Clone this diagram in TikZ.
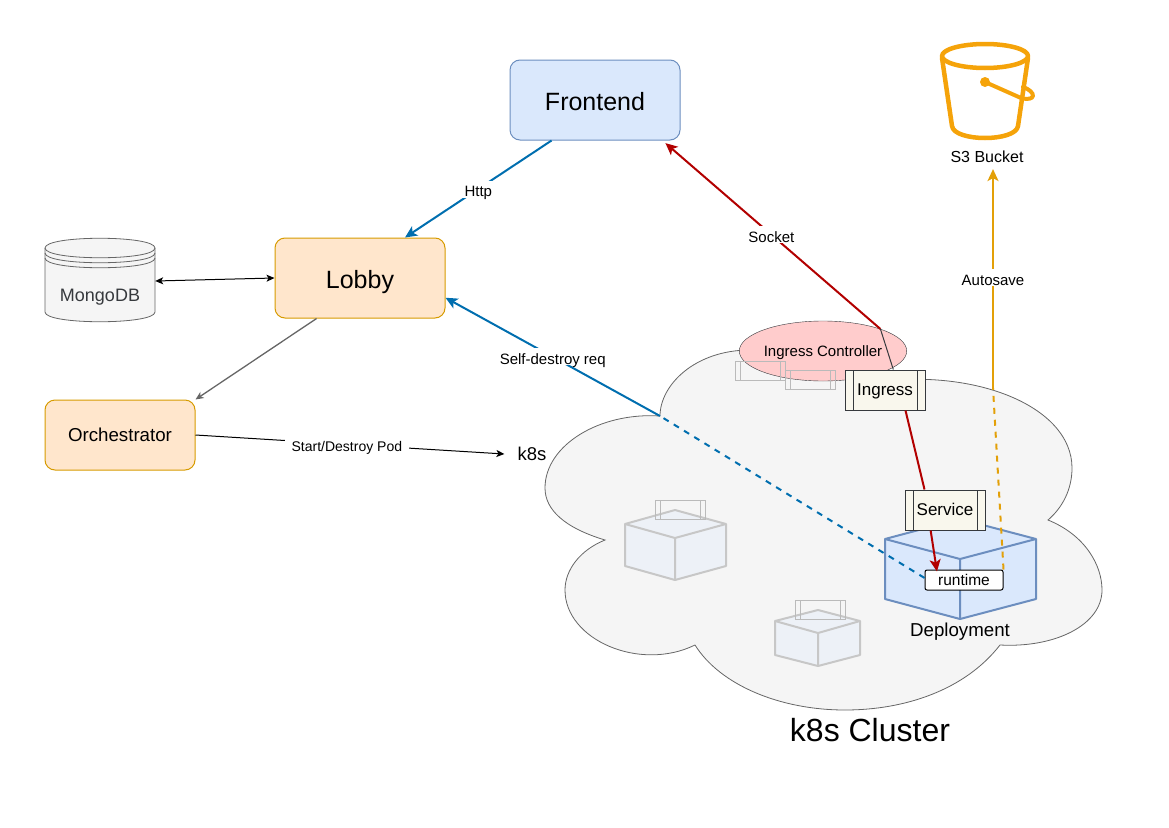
\documentclass[tikz,border=0pt]{standalone}
\usepackage{fontspec}
\setmainfont{Liberation Sans}
\usetikzlibrary{shapes.geometric, arrows.meta}
\definecolor{blueFill}{HTML}{DAE8FC}
\definecolor{blueLine}{HTML}{6C8EBF}
\definecolor{orangeFill}{HTML}{FFE6CC}
\definecolor{orangeLine}{HTML}{D79B00}
\definecolor{greyFill}{HTML}{F5F5F5}
\definecolor{greyLine}{HTML}{666666}
\definecolor{darkLine}{HTML}{36393D}
\definecolor{pinkFill}{HTML}{FFCCCC}
\definecolor{creamFill}{HTML}{F9F7ED}
\definecolor{httpBlue}{HTML}{006EAF}
\definecolor{socketRed}{HTML}{B20000}
\definecolor{bucketOrange}{HTML}{F5A30A}
\definecolor{saveOrange}{HTML}{E3A008}
\newcommand{\fsize}[1]{\fontsize{#1}{#1}\selectfont}

\begin{document}
\begin{tikzpicture}[
    x=1pt, y=-1pt,
    bluebox/.style={draw=blueLine, fill=blueFill, line width=1pt, rectangle, rounded corners=10pt, minimum width=170pt, minimum height=80pt, text height=21pt, text depth=0pt, font=\fsize{25}},
    orangebox/.style={draw=orangeLine, fill=orangeFill, line width=1pt, rectangle, rounded corners=10pt, minimum width=170pt, minimum height=80pt, text height=21pt, text depth=0pt, font=\fsize{25}},
    process/.style={draw=darkLine, fill=creamFill, line width=1pt, rectangle, minimum width=80pt, minimum height=40pt, inner sep=0pt, text height=11pt, text depth=0pt, font=\fsize{17},
        path picture={
            \draw[darkLine] ([xshift=8pt]path picture bounding box.south west) -- ([xshift=8pt]path picture bounding box.north west);
            \draw[darkLine] ([xshift=-8pt]path picture bounding box.south east) -- ([xshift=-8pt]path picture bounding box.north east);
        }},
    ghost/.style={draw=black!27, line width=1pt, rectangle, minimum width=50pt, minimum height=19pt, inner sep=0pt,
        path picture={
            \draw[black!27] ([xshift=5pt]path picture bounding box.south west) -- ([xshift=5pt]path picture bounding box.north west);
            \draw[black!27] ([xshift=-5pt]path picture bounding box.south east) -- ([xshift=-5pt]path picture bounding box.north east);
        }},
    plain/.style={inner sep=0pt, font=\fsize{#1}},
    plain/.default=15,
    edge label/.style={midway, fill=white, text=black, inner xsep=3pt, inner ysep=1pt, text height=15pt, text depth=0pt, font=\fsize{15}},
    cube/.style={draw=blueLine, fill=blueFill, line width=2pt, line join=round},
    ghostcube/.style={draw=black!22, fill=blueFill!30!greyFill, line width=2pt, line join=round},
    thinarrow/.style={black, line width=1pt, -{Stealth[length=8pt, width=7pt, inset=2pt]}},
    widearrow/.style={line width=2pt, -{Stealth[length=12pt, width=11pt, inset=3pt]}}]

\useasboundingbox (0,0) rectangle (1169,827);

% Cluster cloud
\draw[draw=greyLine, fill=greyFill, line width=0.8pt]
    (605,540) .. controls (565,528) and (545,510) .. (545,488)
    .. controls (545,445) and (600,412) .. (660,416)
    .. controls (660,385) and (695,350) .. (750,350)
    .. controls (790,345) and (845,355) .. (862,384)
    .. controls (970,365) and (1072,405) .. (1072,468)
    .. controls (1072,490) and (1062,508) .. (1048,520)
    .. controls (1085,535) and (1102,565) .. (1102,590)
    .. controls (1102,625) and (1055,648) .. (1000,645)
    .. controls (965,690) and (905,710) .. (845,710)
    .. controls (780,710) and (720,685) .. (695,645)
    .. controls (640,672) and (565,640) .. (565,590)
    .. controls (565,570) and (580,550) .. (605,540) -- cycle;

% MongoDB store
\draw[draw=greyLine, fill=greyFill, line width=0.8pt]
    (45,248) .. controls (45,235) and (155,235) .. (155,248) -- (155,312)
    .. controls (155,325) and (45,325) .. (45,312) -- cycle;
\draw[greyLine, line width=0.8pt] (45,248) .. controls (45,261) and (155,261) .. (155,248);
\draw[greyLine, line width=0.8pt] (45,253) .. controls (45,266) and (155,266) .. (155,253);
\draw[greyLine, line width=0.8pt] (45,258) .. controls (45,271) and (155,271) .. (155,258);

% S3 bucket
\draw[bucketOrange, line width=4.5pt, line join=round, line cap=round]
    (985,56) ellipse [x radius=43pt, y radius=12pt];
\draw[bucketOrange, line width=4.5pt, line join=round, line cap=round]
    (942,58) -- (952,126) .. controls (954,142) and (1016,142) .. (1018,126) -- (1028,58);
\draw[bucketOrange, line width=4pt, line cap=round]
    (985,82) -- (1021,98) .. controls (1036,102) and (1037,92) .. (1023,87);
\fill[bucketOrange] (985,82) circle [radius=5pt];

% Nodes
\node[bluebox] (frontend) at (595,100) {Frontend};
\node[orangebox] (lobby) at (360,278) {Lobby};
\node[orangebox, minimum width=150pt, minimum height=70pt, text height=13pt, font=\fsize{18.7}] (orchestrator) at (120,435) {Orchestrator};
\node[minimum width=110pt, minimum height=84pt] (mongo) at (100,281) {};
\node[plain=18, text=darkLine] (mongoLabel) at (100,297) {MongoDB};
\node[plain=18.5, inner xsep=13pt] (k8s) at (532,454) {k8s};
\node[plain=16] (bucketLabel) at (987,157) {S3 Bucket};
\node[plain=32] (clusterLabel) at (870,730) {k8s Cluster};
\node[draw=darkLine, fill=pinkFill, ellipse, inner sep=0pt, minimum width=165pt, minimum height=60pt, text height=11pt, text depth=0pt, font=\fsize{15}] (controller) at (823,351) {Ingress Controller};
\node[ghost] (ghostA) at (760,371) {};
\node[ghost] (ghostB) at (810,380) {};

% Cubes
\draw[cube] (885,539) -- (960,519) -- (1036,539) -- (1036,599) -- (960,619) -- (885,599) -- cycle;
\draw[cube, fill=none] (885,539) -- (960,559) -- (1036,539) (960,559) -- (960,619);
\draw[ghostcube] (625,524) -- (675,510) -- (726,524) -- (726,566) -- (675,580) -- (625,566) -- cycle;
\draw[ghostcube, fill=none] (625,524) -- (675,538) -- (726,524) (675,538) -- (675,580);
\draw[ghostcube] (775,621) -- (818,610) -- (860,621) -- (860,655) -- (818,666) -- (775,655) -- cycle;
\draw[ghostcube, fill=none] (775,621) -- (818,633) -- (860,621) (818,633) -- (818,666);
\node[ghost] (ghostC) at (680,510) {};
\node[ghost] (ghostD) at (820,610) {};
\node[plain=18.7] (deployLabel) at (960,632) {Deployment};

\node[process] (ingress) at (885,390) {Ingress};
\node[process] (service) at (945,510) {Service};
\node[draw=black, fill=white, rectangle, rounded corners=2pt, line width=1pt, minimum width=78pt, minimum height=20pt, inner sep=0pt, font=\fsize{15.5}] (runtime) at (964,580) {runtime};

% Bend points on the cloud edge
\coordinate (destroyBend) at (660,416);
\coordinate (saveBend) at (993,388);

% Connectors
\draw[widearrow, httpBlue] (frontend.223.6) -- (lobby.42.3) node[edge label] {Http};
\draw[thinarrow, {Stealth[length=8pt, width=7pt, inset=2pt]}-{Stealth[length=8pt, width=7pt, inset=2pt]}] (mongo.east) -- (lobby.west);
\draw[thinarrow, draw=greyLine, line width=1.3pt] (lobby.223.6) -- (orchestrator.north east);
\draw[thinarrow] (orchestrator.east) -- (k8s.west) node[edge label, pos=.49, inner xsep=7pt, text height=14pt, font=\fsize{14}] {Start/Destroy Pod};
\draw[widearrow, socketRed, shorten >=4pt] (controller.21) -- (frontend.-31) node[edge label, pos=.5] {Socket};
\draw[darkLine, line width=1pt] (controller.21) -- (ingress.68);
\draw[socketRed, line width=2pt] (ingress.-45) -- (service.135);
\draw[widearrow, socketRed, shorten >=-2pt] (service.235) -- (runtime.159);
\draw[widearrow, httpBlue] (destroyBend) -- (lobby.-13.2) node[edge label] {Self-destroy req};
\draw[httpBlue, line width=2pt, dash pattern=on 6pt off 6pt] (runtime.177) -- (destroyBend);
\draw[widearrow, saveOrange, shorten >=6pt] (saveBend) -- (bucketLabel.south -| saveBend) node[edge label, pos=.49] {Autosave};
\draw[saveOrange, line width=2pt, dash pattern=on 6pt off 6pt] (runtime.north east) -- (saveBend);

\end{tikzpicture}
\end{document}
